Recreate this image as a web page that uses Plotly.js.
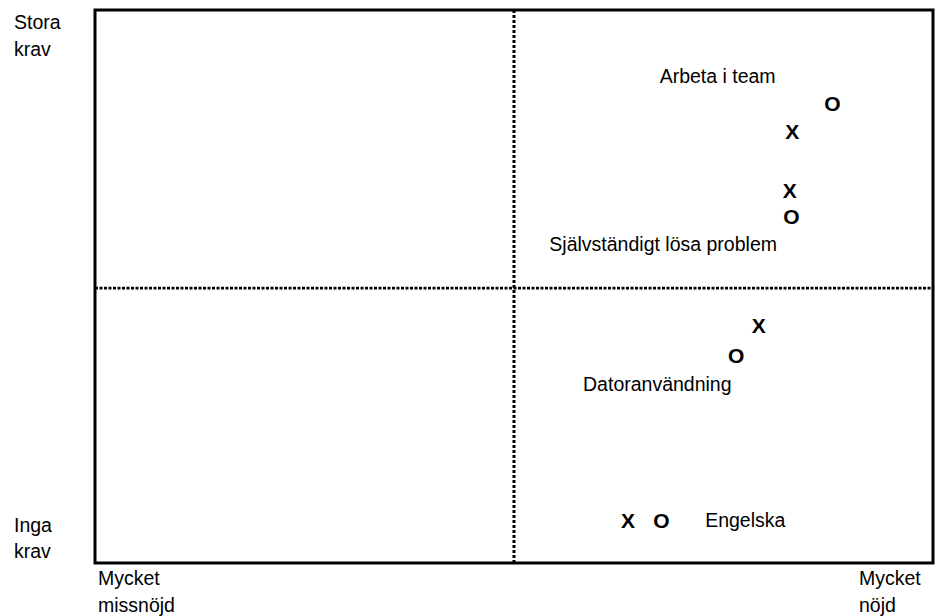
<!DOCTYPE html>
<html>
<head>
<meta charset="utf-8">
<script src="https://cdn.plot.ly/plotly-3.0.1.min.js"></script>
<style>html,body{margin:0;padding:0;background:#fff;}#chart{width:936px;height:616px;}</style>
</head>
<body>
<div id="chart"></div>
<script>
// Categories (competences)
const categories = ['Arbeta i team', 'Självständigt lösa problem', 'Datoranvändning', 'Engelska'];
// "X" series (satisfaction, demand) on 0–100 scales
const xSeriesX = [83.2, 82.9, 79.2, 63.6];
const xSeriesY = [77.6, 67.0, 42.6, 7.2];
// "O" series
const oSeriesX = [88.0, 83.1, 76.5, 67.6];
const oSeriesY = [82.6, 62.2, 37.2, 7.2];
// Category label anchor points
const labelX = [74.3, 67.8, 67.1, 77.6];
const labelY = [87.7, 57.3, 32.0, 7.4];
// Axis end labels
const yLabelsTop = ['Stora', 'krav'];
const yLabelsBottom = ['Inga', 'krav'];
const xLabelsLeft = ['Mycket', 'missnöjd'];
const xLabelsRight = ['Mycket', 'nöjd'];

const FONT = 'Liberation Sans, Arial, Helvetica, sans-serif';
const markFont = {family: FONT, size: 21, color: '#000', weight: 'bold'};
const labelFont = {family: FONT, size: 19.5, color: '#000'};

const traces = [
  {type: 'scatter', mode: 'text', x: xSeriesX, y: xSeriesY,
   text: xSeriesX.map(() => '<b>X</b>'), textposition: 'middle center',
   textfont: markFont, hoverinfo: 'skip', showlegend: false, cliponaxis: false},
  {type: 'scatter', mode: 'text', x: oSeriesX, y: oSeriesY,
   text: oSeriesX.map(() => '<b>O</b>'), textposition: 'middle center',
   textfont: markFont, hoverinfo: 'skip', showlegend: false, cliponaxis: false},
  {type: 'scatter', mode: 'text', x: labelX, y: labelY,
   text: categories, textposition: 'middle center',
   textfont: labelFont, hoverinfo: 'skip', showlegend: false, cliponaxis: false}
];

const L = 95, R = 3, T = 10, B = 53;
const W = 936, H = 616;
const pw = W - L - R, ph = H - T - B;
function py(pix) { return (H - B - pix) / ph; }
function px(pix) { return (pix - L) / pw; }

const annotations = [];
function addLines(lines, xPix, yPixList) {
  lines.forEach((t, i) => {
    annotations.push({text: t, xref: 'paper', yref: 'paper', x: px(xPix), y: py(yPixList[i]),
      xanchor: 'left', yanchor: 'middle', showarrow: false, font: labelFont});
  });
}
addLines(yLabelsTop, 12, [22, 49]);
addLines(yLabelsBottom, 12, [525, 551]);
addLines(xLabelsLeft, 96, [578, 605]);
addLines(xLabelsRight, 857, [578, 605]);

const layout = {
  width: W, height: H,
  margin: {l: L, r: R, t: T, b: B, pad: 0},
  paper_bgcolor: '#fff', plot_bgcolor: '#fff',
  xaxis: {range: [0, 100], showgrid: false, zeroline: false, showticklabels: false, ticks: '', showline: false, fixedrange: true},
  yaxis: {range: [0, 100], showgrid: false, zeroline: false, showticklabels: false, ticks: '', showline: false, fixedrange: true},
  shapes: [
    {type: 'line', xref: 'x', yref: 'paper', x0: 50, x1: 50, y0: 0, y1: 1,
     line: {color: '#000', width: 3, dash: '3px,2px'}},
    {type: 'line', xref: 'paper', yref: 'y', x0: 0, x1: 1, y0: 49.7, y1: 49.7,
     line: {color: '#000', width: 2.7, dash: '3px,1.5px'}},
    {type: 'rect', xref: 'paper', yref: 'paper', x0: 0, x1: 1, y0: 0, y1: 1,
     line: {color: '#000', width: 3}}
  ],
  annotations: annotations,
  showlegend: false
};

Plotly.newPlot('chart', traces, layout, {displayModeBar: false, staticPlot: true});
</script>
</body>
</html>
